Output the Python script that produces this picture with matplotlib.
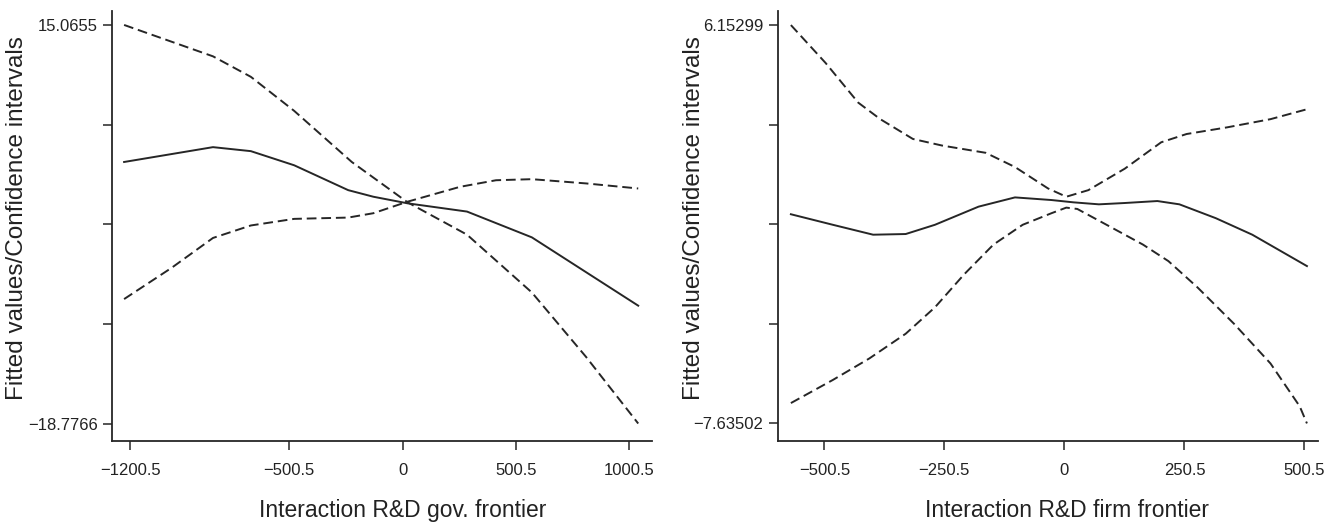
import numpy as np
import matplotlib.pyplot as plt

# left panel: interaction R&D gov. frontier
gov_x_fit = [-1228, -836, -669, -478, -240, -129, 22, 284, 570, 1039]
gov_fit = [3.43, 4.69, 4.35, 3.15, 1.04, 0.48, -0.08, -0.78, -2.97, -8.77]
gov_x_ci1 = [-1228, -836, -669, -478, -224, 22, 284, 570, 809, 1039]
gov_ci1 = [15.0655, 12.40, 10.66, 7.77, 3.43, 0.005, -2.74, -7.65, -13.12, -18.7766]
gov_x_ci2 = [-1228, -1018, -836, -669, -478, -240, -129, 22, 253, 412, 570, 809, 1039]
gov_ci2 = [-8.21, -5.55, -3.02, -1.96, -1.40, -1.29, -0.92, 0.06, 1.32, 1.88, 1.97, 1.61, 1.18]
gov_xticks = [-1200.5, -500.5, 0, 500.5, 1000.5]
gov_xlabels = ['\u22121200.5', '\u2212500.5', '0', '500.5', '1000.5']
gov_ymax, gov_ymin = 15.0655, -18.7766

# right panel: interaction R&D firm frontier
firm_x_fit = [-570.5, -483, -399, -331, -270, -179, -103, -27, 19, 72, 126, 194, 240, 316, 392, 506]
firm_fit = [-0.395, -0.760, -1.103, -1.080, -0.760, -0.132, 0.188, 0.097, 0.017, -0.052, -0.006,
            0.062, -0.052, -0.532, -1.103, -2.189]
firm_x_ci1 = [-570.5, -498, -430, -384, -316, -255, -164, -103, -34, 4, 50, 126, 202, 255, 339, 430, 506]
firm_ci1 = [6.15299, 4.839, 3.468, 2.896, 2.211, 1.982, 1.731, 1.239, 0.497, 0.211, 0.439, 1.182,
            2.096, 2.382, 2.611, 2.896, 3.239]
firm_x_ci2 = [-570.5, -483, -407, -331, -270, -209, -148, -87, -27, 4, 27, 88, 164, 217, 278, 354,
              430, 491, 506]
firm_ci2 = [-6.931, -6.131, -5.388, -4.531, -3.617, -2.474, -1.446, -0.760, -0.360, -0.166, -0.212,
            -0.760, -1.446, -2.017, -2.932, -4.188, -5.560, -7.045, -7.63502]
firm_xticks = [-500.5, -250.5, 0, 250.5, 500.5]
firm_xlabels = ['\u2212500.5', '\u2212250.5', '0', '250.5', '500.5']
firm_ymax, firm_ymin = 6.15299, -7.63502

plt.rcParams['font.family'] = ['Liberation Sans', 'DejaVu Sans']

ink = '#262626'
fig = plt.figure(figsize=(13.31, 5.26), dpi=100)
ax1 = fig.add_axes([0.0842, 0.1607, 0.4057, 0.8184])
ax2 = fig.add_axes([0.5843, 0.1607, 0.4059, 0.8184])


def draw(ax, xf, yf, x1, y1, x2, y2, xticks, xlabels, ymax, ymin, xlim, ylim, xlabel, xlab_x, ylab_x):
    ax.plot(xf, yf, color=ink, lw=1.4)
    ax.plot(x1, y1, color=ink, lw=1.4, ls=(0, (5, 2.5)))
    ax.plot(x2, y2, color=ink, lw=1.4, ls=(0, (5, 2.5)))
    ax.set_xlim(*xlim)
    ax.set_ylim(*ylim)
    ax.set_xticks(xticks)
    ax.set_xticklabels(xlabels)
    yt = np.linspace(ymax, ymin, 5)
    ax.set_yticks(yt)
    ax.set_yticklabels([f'{ymax:g}', '', '', '', f'{ymin:g}'.replace('-', '\u2212')])
    for s in ['top', 'right']:
        ax.spines[s].set_visible(False)
    for s in ['left', 'bottom']:
        ax.spines[s].set_linewidth(1.3)
        ax.spines[s].set_color(ink)
    ax.tick_params(axis='both', length=6.5, width=1.1, color=ink, labelsize=12, labelcolor='#222222')
    ax.tick_params(axis='x', pad=9)
    ax.tick_params(axis='y', pad=4)
    ax.set_xlabel(xlabel, fontsize=16.5, color='#222222')
    ax.set_ylabel('Fitted values/Confidence intervals', fontsize=17.5, color='#222222')
    ax.xaxis.set_label_coords(xlab_x, -0.133)
    ax.yaxis.set_label_coords(ylab_x, 0.52)


draw(ax1, gov_x_fit, gov_fit, gov_x_ci1, gov_ci1, gov_x_ci2, gov_ci2, gov_xticks, gov_xlabels,
     gov_ymax, gov_ymin, (-1281, 1100), (-20.30, 16.25), 'Interaction R&D gov. frontier', 0.539, -0.155)
draw(ax2, firm_x_fit, firm_fit, firm_x_ci1, firm_ci1, firm_x_ci2, firm_ci2, firm_xticks, firm_xlabels,
     firm_ymax, firm_ymin, (-598, 529), (-8.26, 6.64), 'Interaction R&D firm frontier', 0.535, -0.134)

fig.savefig('out.png', dpi=100)
